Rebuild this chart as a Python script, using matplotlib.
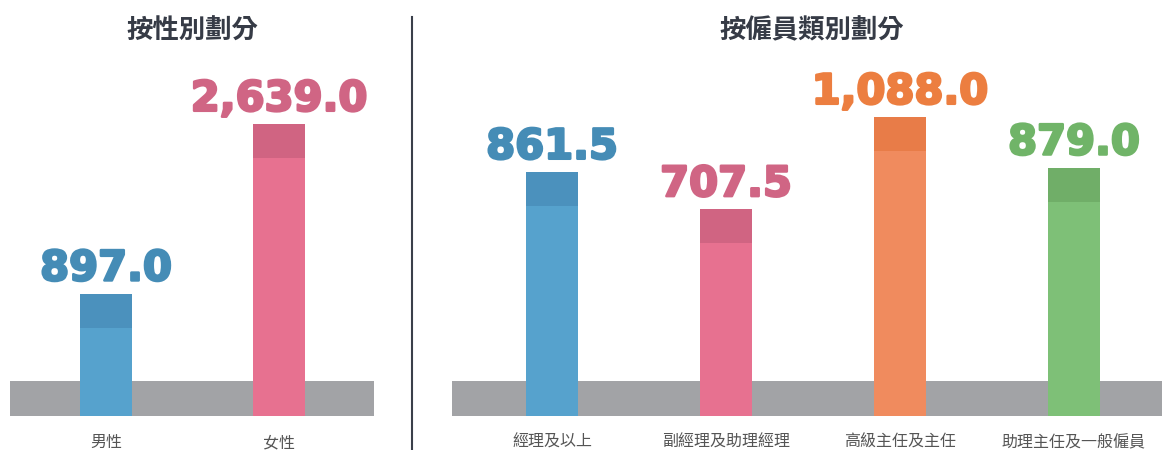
import matplotlib.pyplot as plt
import matplotlib.patheffects as pe
from matplotlib.lines import Line2D

plt.rcParams['font.family'] = ['Noto Sans CJK TC', 'DejaVu Sans']

gender_labels = ['男性', '女性']
gender_values = [897.0, 2639.0]
gender_colors = ['#56a2cd', '#e77190']
gender_caps = ['#4b91bd', '#d06482']
gender_text = ['#458cb6', '#d06584']

grade_labels = ['經理及以上', '副經理及助理經理', '高級主任及主任', '助理主任及一般僱員']
grade_values = [861.5, 707.5, 1088.0, 879.0]
grade_colors = ['#56a2cd', '#e77190', '#f08b5e', '#7ec077']
grade_caps = ['#4b91bd', '#d06482', '#e87c48', '#70ae68']
grade_text = ['#458cb6', '#d06584', '#ec7e40', '#70b468']

W, H = 1162, 450
fig = plt.figure(figsize=(W / 100, H / 100), dpi=100)

# pixel layout: band 381-416, axes top at 60
band_px = 35
cap_px = 34
top_px = 321


def panel(rect_px, xlim, labels, values, colors, caps, tcolors, px_scale):
    x0, x1 = rect_px
    ax = fig.add_axes([x0 / W, (H - 416) / H, (x1 - x0) / W, (416 - 60) / H])
    ax.set_xlim(xlim)
    ax.set_ylim(-band_px * px_scale, top_px * px_scale)
    ax.axhspan(-band_px * px_scale, 0, color='#a2a3a6', lw=0, zorder=1)
    xs = list(range(len(values)))
    bottom = -band_px * px_scale
    ax.bar(xs, [v - bottom for v in values], bottom=bottom, width=0.3,
           color=colors, lw=0, zorder=2)
    cap = cap_px * px_scale
    ax.bar(xs, [cap] * len(values), bottom=[v - cap for v in values],
           width=0.3, color=caps, lw=0, zorder=3)
    for x, v, c in zip(xs, values, tcolors):
        ax.annotate(f'{v:,.1f}', (x, v), xytext=(0, 9.5), textcoords='offset points',
                    ha='center', va='baseline', fontsize=30, fontweight='heavy',
                    color=c, family='DejaVu Sans',
                    path_effects=[pe.withStroke(linewidth=1.8, foreground=c)])
    ax.set_xticks(xs)
    ax.set_xticklabels(labels, fontsize=11.5, color='#555555')
    ax.tick_params(axis='x', length=0, pad=13)
    ax.set_yticks([])
    for s in ax.spines.values():
        s.set_visible(False)
    return ax


panel((10, 374), (-0.555, 1.549), gender_labels, gender_values,
      gender_colors, gender_caps, gender_text, 2639.0 / 257)
panel((452, 1162), (-0.575, 3.506), grade_labels, grade_values,
      grade_colors, grade_caps, grade_text, 1088.0 / 264)

fig.text(192 / W, 1 - 31 / H, '按性別劃分', ha='center', va='center',
         fontsize=19, fontweight='bold', color='#363b46')
fig.text(812 / W, 1 - 31 / H, '按僱員類別劃分', ha='center', va='center',
         fontsize=19, fontweight='bold', color='#363b46')

fig.add_artist(Line2D([412 / W, 412 / W], [0, 1 - 17 / H], color='#3a3f4a', lw=1.5))

fig.savefig('out.png', dpi=100)
